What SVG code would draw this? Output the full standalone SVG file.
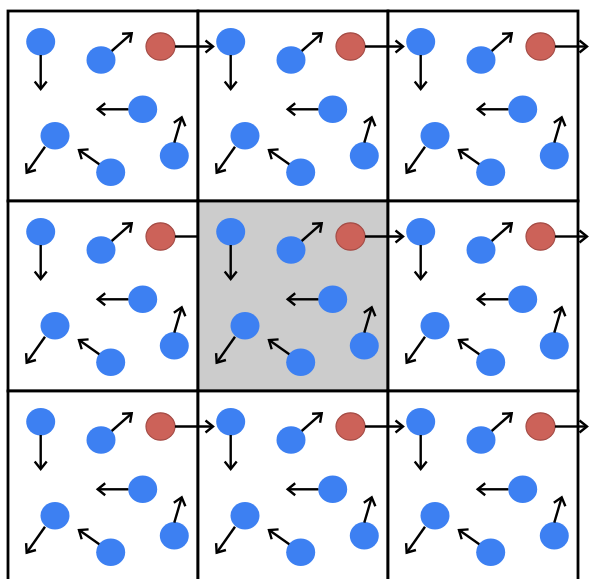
<svg xmlns="http://www.w3.org/2000/svg" xmlns:xlink="http://www.w3.org/1999/xlink" width="589" height="579" viewBox="0 0 589 579">
  <style>
    .cell { fill: #ffffff; stroke: #000000; stroke-width: 2.8; }
    .cell.center { fill: #cccccc; }
    .blue { fill: #3d80f2; }
    .red { fill: #cc6259; stroke: #a44c46; stroke-width: 1.2; }
    .arrow { fill: none; stroke: #000000; stroke-width: 2.4; marker-end: url(#head); }
    .link { fill: none; stroke: #000000; stroke-width: 2.4; }
  </style>
  <defs>
    <marker id="head" markerUnits="userSpaceOnUse" markerWidth="14" markerHeight="16" viewBox="-11 -8 14 16" refX="0" refY="0" orient="auto">
      <path d="M-7.5,-6 L0,0 L-7.5,6" fill="none" stroke="#000000" stroke-width="2.4" stroke-linejoin="miter"/>
    </marker>
    <g id="particles">
      <ellipse class="blue" cx="32.7" cy="30.7" rx="14.5" ry="13.7"/>
      <ellipse class="blue" cx="93" cy="49" rx="14.5" ry="13.7"/>
      <ellipse class="red" cx="152.5" cy="35.5" rx="14.5" ry="13.7"/>
      <ellipse class="blue" cx="134.7" cy="98.3" rx="14.5" ry="13.7"/>
      <ellipse class="blue" cx="47" cy="124.7" rx="14.5" ry="13.7"/>
      <ellipse class="blue" cx="102.7" cy="161.3" rx="14.5" ry="13.7"/>
      <ellipse class="blue" cx="166.3" cy="144.7" rx="14.5" ry="13.7"/>
    </g>
    <g id="moves">
      <line class="arrow" x1="32.7" y1="44" x2="32.7" y2="78"/>
      <line class="arrow" x1="103.7" y1="40" x2="123.7" y2="22.3"/>
      <line class="arrow" x1="120.3" y1="98.3" x2="89.7" y2="98.3"/>
      <line class="arrow" x1="37" y1="135.7" x2="18.7" y2="161.7"/>
      <line class="arrow" x1="91.3" y1="153.3" x2="71" y2="139"/>
      <line class="arrow" x1="166.3" y1="131.7" x2="173.7" y2="106.3"/>
    </g>
  </defs>

  <g id="cell-0-0" transform="translate(8,11)"><rect class="cell" width="190" height="190"/><use href="#particles"/></g>
  <g id="cell-0-1" transform="translate(198,11)"><rect class="cell" width="190" height="190"/><use href="#particles"/></g>
  <g id="cell-0-2" transform="translate(388,11)"><rect class="cell" width="190" height="190"/><use href="#particles"/></g>
  <g id="cell-1-0" transform="translate(8,201)"><rect class="cell" width="190" height="190"/><use href="#particles"/></g>
  <g id="cell-1-1" transform="translate(198,201)"><rect class="cell center" width="190" height="190"/><use href="#particles"/></g>
  <g id="cell-1-2" transform="translate(388,201)"><rect class="cell" width="190" height="190"/><use href="#particles"/></g>
  <g id="cell-2-0" transform="translate(8,391)"><rect class="cell" width="190" height="190"/><use href="#particles"/></g>
  <g id="cell-2-1" transform="translate(198,391)"><rect class="cell" width="190" height="190"/><use href="#particles"/></g>
  <g id="cell-2-2" transform="translate(388,391)"><rect class="cell" width="190" height="190"/><use href="#particles"/></g>

  <g id="connectors">
    <use href="#moves" transform="translate(8,11)"/>
    <use href="#moves" transform="translate(198,11)"/>
    <use href="#moves" transform="translate(388,11)"/>
    <use href="#moves" transform="translate(8,201)"/>
    <use href="#moves" transform="translate(198,201)"/>
    <use href="#moves" transform="translate(388,201)"/>
    <use href="#moves" transform="translate(8,391)"/>
    <use href="#moves" transform="translate(198,391)"/>
    <use href="#moves" transform="translate(388,391)"/>
    <!-- red particle crossings -->
    <line class="arrow" x1="175" y1="46.5" x2="213" y2="46.5"/>
    <line class="arrow" x1="365" y1="46.5" x2="403" y2="46.5"/>
    <line class="arrow" x1="555" y1="46.5" x2="587" y2="46.5"/>
    <line class="link" x1="175" y1="236.5" x2="198" y2="236.5"/>
    <line class="arrow" x1="365" y1="236.5" x2="403" y2="236.5"/>
    <line class="arrow" x1="555" y1="236.5" x2="587" y2="236.5"/>
    <line class="arrow" x1="175" y1="426.5" x2="213" y2="426.5"/>
    <line class="arrow" x1="365" y1="426.5" x2="403" y2="426.5"/>
    <line class="arrow" x1="555" y1="426.5" x2="587" y2="426.5"/>
  </g>
</svg>
